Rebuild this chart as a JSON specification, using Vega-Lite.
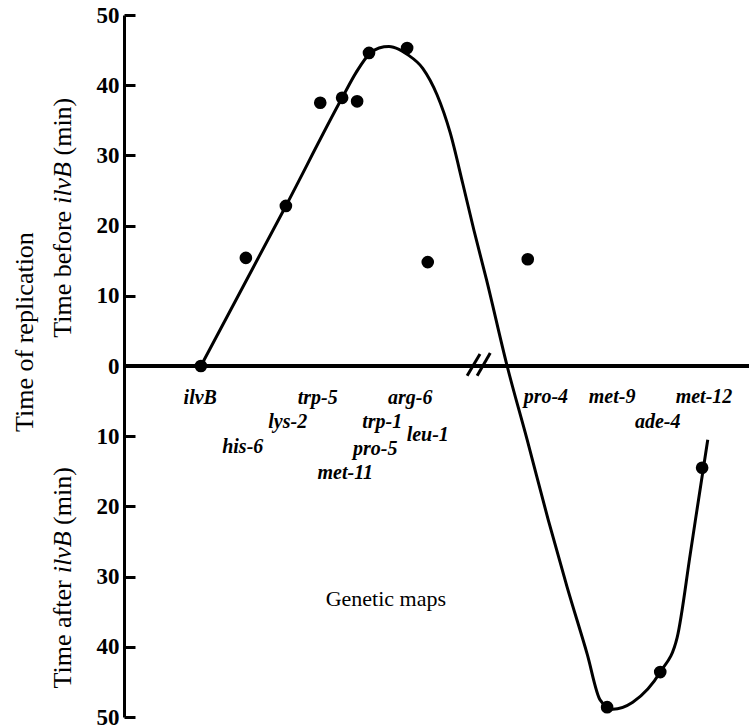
{
  "$schema": "https://vega.github.io/schema/vega-lite/v6.json",
  "width": 625,
  "height": 702,
  "autosize": "none",
  "padding": {"left": 124, "top": 15, "right": 0, "bottom": 8},
  "background": "white",
  "config": {"view": {"stroke": null}, "font": "Liberation Serif"},
  "datasets": {
    "curve": [
      {"map": 12.3, "time": 0}, {"map": 25.9, "time": 22.8}, {"map": 34.9, "time": 38.2},
      {"map": 37.2, "time": 41.9}, {"map": 39.2, "time": 44.4}, {"map": 40.8, "time": 45.3},
      {"map": 42.4, "time": 45.5}, {"map": 44.0, "time": 45.1}, {"map": 45.3, "time": 44.4},
      {"map": 47.8, "time": 42.4}, {"map": 50.1, "time": 38.6}, {"map": 52.2, "time": 33.2},
      {"map": 54.2, "time": 26.0}, {"map": 56.0, "time": 19.3}, {"map": 58.0, "time": 12.3},
      {"map": 61.3, "time": 0}, {"map": 64.5, "time": -10.5}, {"map": 67.9, "time": -22.0},
      {"map": 70.9, "time": -31.5}, {"map": 74.1, "time": -41.0}, {"map": 76.2, "time": -47.6},
      {"map": 78.2, "time": -48.9}, {"map": 81.4, "time": -47.9}, {"map": 85.8, "time": -43.6},
      {"map": 88.5, "time": -38.7}, {"map": 90.6, "time": -26.8}, {"map": 91.4, "time": -22.1},
      {"map": 93.4, "time": -10.5}
    ],
    "points": [
      {"gene": "ilvB", "map": 12.3, "time": 0},
      {"gene": "his-6", "map": 19.5, "time": 15.4},
      {"gene": "lys-2", "map": 25.9, "time": 22.8},
      {"gene": "trp-5", "map": 31.4, "time": 37.5},
      {"gene": "met-11", "map": 34.9, "time": 38.2},
      {"gene": "pro-5", "map": 37.3, "time": 37.7},
      {"gene": "trp-1", "map": 39.2, "time": 44.6},
      {"gene": "arg-6", "map": 45.3, "time": 45.3},
      {"gene": "leu-1", "map": 48.6, "time": 14.8},
      {"gene": "pro-4", "map": 64.6, "time": 15.2},
      {"gene": "met-9", "map": 77.3, "time": -48.6},
      {"gene": "ade-4", "map": 85.8, "time": -43.6},
      {"gene": "met-12", "map": 92.5, "time": -14.5}
    ],
    "genes": [
      {"gene": "ilvB", "map": 12.2, "lx": 12.2, "ly": -4.6},
      {"gene": "his-6", "map": 19.4, "lx": 19.0, "ly": -11.5},
      {"gene": "lys-2", "map": 26.6, "lx": 26.2, "ly": -8.0},
      {"gene": "trp-5", "map": 31.2, "lx": 31.0, "ly": -4.6},
      {"gene": "met-11", "map": 35.5, "lx": 35.4, "ly": -15.2},
      {"gene": "pro-5", "map": 37.3, "lx": 40.2, "ly": -11.8},
      {"gene": "trp-1", "map": 40.2, "lx": 41.3, "ly": -8.0},
      {"gene": "arg-6", "map": 45.8, "lx": 45.8, "ly": -4.6},
      {"gene": "leu-1", "map": 48.5, "lx": 48.6, "ly": -9.8},
      {"gene": "pro-4", "map": 65.0, "lx": 67.5, "ly": -4.4},
      {"gene": "met-9", "map": 78.6, "lx": 78.1, "ly": -4.4},
      {"gene": "ade-4", "map": 85.4, "lx": 85.4, "ly": -8.0},
      {"gene": "met-12", "map": 92.6, "lx": 92.8, "ly": -4.4}
    ],
    "breaks": [
      {"x1": 54.9, "y1": -1.4, "x2": 56.96, "y2": 1.7},
      {"x1": 56.5, "y1": -1.4, "x2": 58.6, "y2": 1.85}
    ],
    "titlesRegular": [
      {"text": "Time before", "map": -9.76, "time": 13.06},
      {"text": "(min)", "map": -9.76, "time": 34.1},
      {"text": "Time after", "map": -9.76, "time": -38.23},
      {"text": "(min)", "map": -9.76, "time": -18.53},
      {"text": "Time of replication", "map": -15.84, "time": 4.84}
    ],
    "titlesItalic": [
      {"text": "ilvB", "map": -9.76, "time": 26.07},
      {"text": "ilvB", "map": -9.76, "time": -26.55}
    ],
    "caption": [
      {"text": "Genetic maps", "map": 41.9, "time": -33.2}
    ]
  },
  "encoding": {
    "x": {"field": "map", "type": "quantitative", "scale": {"domain": [0, 100], "nice": false}, "axis": null},
    "y": {"field": "time", "type": "quantitative", "scale": {"domain": [-50, 50], "nice": false},
      "axis": {"title": null, "values": [-50, -40, -30, -20, -10, 0, 10, 20, 30, 40, 50],
        "labelExpr": "abs(datum.value)", "tickSize": -11, "tickWidth": 3, "tickColor": "black",
        "domainColor": "black", "domainWidth": 3, "labelPadding": 16, "labelFont": "Liberation Serif",
        "labelFontSize": 23, "labelFontWeight": "bold", "labelColor": "black", "grid": false,
        "labelOverlap": false, "labelFlush": false}}
  },
  "layer": [
    {
      "data": {"name": "curve"},
      "mark": {"type": "line", "color": "black", "strokeWidth": 3, "interpolate": "monotone"}
    },
    {
      "data": {"name": "points"},
      "mark": {"type": "rule", "color": "black", "strokeWidth": 3},
      "encoding": {
        "x": null,
        "y": {"datum": 0, "type": "quantitative"}
      }
    },
    {
      "data": {"name": "genes"},
      "mark": {"type": "tick", "orient": "vertical", "color": "black", "size": 22, "thickness": 2.5},
      "encoding": {
        "y": {"datum": 0, "type": "quantitative"}
      }
    },
    {
      "data": {"name": "breaks"},
      "mark": {"type": "rule", "color": "black", "strokeWidth": 3},
      "encoding": {
        "x": {"field": "x1", "type": "quantitative"},
        "x2": {"field": "x2"},
        "y": {"field": "y1", "type": "quantitative"},
        "y2": {"field": "y2"}
      }
    },
    {
      "data": {"name": "points"},
      "mark": {"type": "circle", "color": "black", "opacity": 1, "size": 160}
    },
    {
      "data": {"name": "genes"},
      "mark": {"type": "text", "font": "Liberation Serif", "fontStyle": "italic", "fontWeight": "bold",
        "fontSize": 20, "color": "black", "align": "center", "baseline": "middle"},
      "encoding": {
        "x": {"field": "lx", "type": "quantitative"},
        "y": {"field": "ly", "type": "quantitative"},
        "text": {"field": "gene"}
      }
    },
    {
      "data": {"name": "titlesRegular"},
      "mark": {"type": "text", "font": "Liberation Serif", "fontSize": 26, "color": "black",
        "align": "center", "baseline": "middle", "angle": 270},
      "encoding": {"text": {"field": "text"}}
    },
    {
      "data": {"name": "titlesItalic"},
      "mark": {"type": "text", "font": "Liberation Serif", "fontStyle": "italic", "fontSize": 26, "color": "black",
        "align": "center", "baseline": "middle", "angle": 270},
      "encoding": {"text": {"field": "text"}}
    },
    {
      "data": {"name": "caption"},
      "mark": {"type": "text", "font": "Liberation Serif", "fontSize": 22, "color": "black",
        "align": "center", "baseline": "middle"},
      "encoding": {"text": {"field": "text"}}
    }
  ]
}
